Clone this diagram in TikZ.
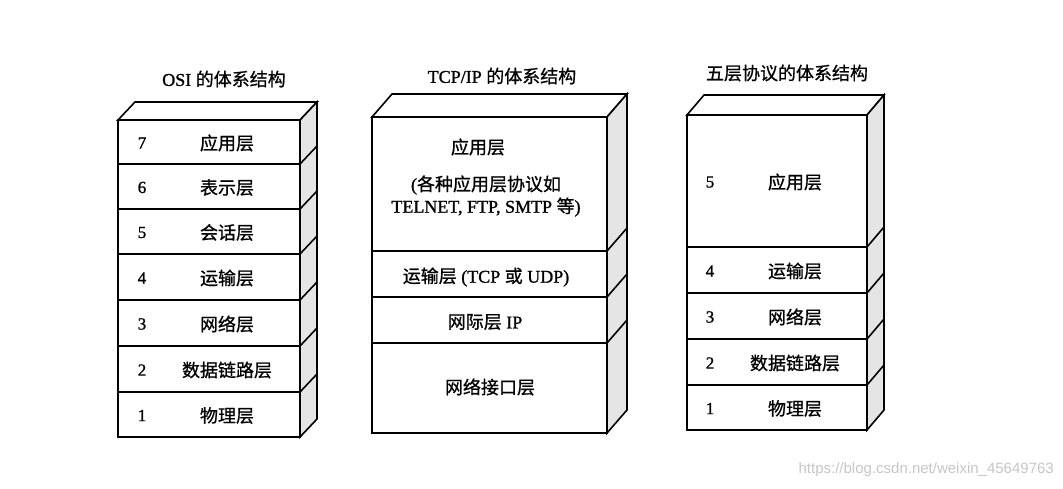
\documentclass[tikz,border=0pt]{standalone}
\usepackage{fontspec}
\setmainfont{Liberation Serif}[FakeBold=1.2]
\newfontfamily\cjk{Noto Sans CJK SC}[FakeBold=0.8]
\newfontfamily\wmfont{Liberation Sans}
\begin{document}
\begin{tikzpicture}[x=1pt,y=-1pt,
  edge/.style={line width=1.6pt, line join=miter},
  front/.style={edge, fill=white},
  sideface/.style={edge, fill=gray!20},
  topface/.style={edge, fill=white},
  txt/.style={font=\fontsize{18}{22}\selectfont, inner sep=0pt, align=center},
  num/.style={font=\fontsize{17}{21}\selectfont, inner sep=0pt},
]
\useasboundingbox (0,0) rectangle (1063,488);

% ---------- OSI ----------
\node[txt] (osititle) at (224,79) {OSI {\cjk 的体系结构}};
\draw[topface] (118,120) -- (135,102) -- (317,102) -- (300,120) -- cycle;
\draw[sideface] (300,120) -- (317,102) -- (317,419) -- (300,437) -- cycle;
\foreach \b in {164,209,254,300,346,392}
  \draw[edge] (300,\b) -- (317,\b-18);
\foreach \t/\b/\n/\s in {120/164/7/应用层,164/209/6/表示层,209/254/5/会话层,
                        254/300/4/运输层,300/346/3/网络层,346/392/2/数据链路层,392/437/1/物理层}{
  \draw[front] (118,\t) rectangle (300,\b);
  \node[num] (osinum\n) at (142,{(\t+\b)/2+1}) {\n};
  \node[txt] (osi\n) at (227,{(\t+\b)/2+1}) {\cjk \s};
}

% ---------- TCP/IP ----------
\node[txt] (tcptitle) at (502,76) {TCP/IP {\cjk 的体系结构}};
\draw[topface] (372,117) -- (392,94) -- (627,94) -- (607,117) -- cycle;
\draw[sideface] (607,117) -- (627,94) -- (627,410) -- (607,433) -- cycle;
\foreach \b in {251,297,343}
  \draw[edge] (607,\b) -- (627,\b-23);
\draw[front] (372,117) rectangle (607,251);
\draw[front] (372,251) rectangle (607,297);
\draw[front] (372,297) rectangle (607,343);
\draw[front] (372,343) rectangle (607,433);
\node[txt] (tcpapp) at (478,147) {\cjk 应用层};
\node[txt] (tcpappdesc) at (486,196) {({\cjk 各种应用层协议如}\\TELNET, FTP, SMTP {\cjk 等})};
\node[txt] (tcptrans) at (486,277) {{\cjk 运输层} (TCP {\cjk 或} UDP)};
\node[txt] (tcpip) at (485,322) {{\cjk 网际层} IP};
\node[txt] (tcpnet) at (490,387) {\cjk 网络接口层};

% ---------- Five layers ----------
\node[txt] (fivetitle) at (787,73) {\cjk 五层协议的体系结构};
\draw[topface] (687,115) -- (704,95) -- (884,95) -- (867,115) -- cycle;
\draw[sideface] (867,115) -- (884,95) -- (884,410) -- (867,430) -- cycle;
\foreach \b in {247,293,339,385}
  \draw[edge] (867,\b) -- (884,\b-20);
\foreach \t/\b/\n/\s in {115/247/5/应用层,247/293/4/运输层,293/339/3/网络层,
                        339/385/2/数据链路层,385/430/1/物理层}{
  \draw[front] (687,\t) rectangle (867,\b);
  \node[num] (fivenum\n) at (710,{(\t+\b)/2+1}) {\n};
  \node[txt] (five\n) at (795,{(\t+\b)/2+1}) {\cjk \s};
}

% ---------- watermark ----------
\node[font=\wmfont\fontsize{15}{18}\selectfont, text=gray!45, anchor=east, inner sep=0pt]
  (wm) at (1054,470) {https://blog.csdn.net/weixin\_45649763};
\end{tikzpicture}
\end{document}
